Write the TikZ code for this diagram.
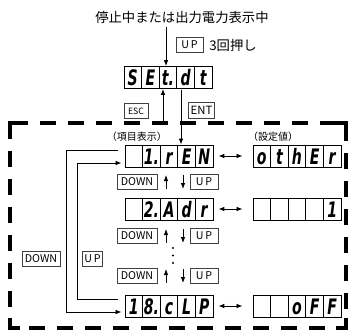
\documentclass[tikz,border=0pt]{standalone}
\usepackage{fontspec}
\setmainfont{Noto Sans CJK JP}
\newfontfamily\segfont{DejaVu Sans}
\usetikzlibrary{arrows.meta,calc}
\tikzset{
 arr/.style={-{Latex[length=4.5pt,width=3.4pt]}, line width=0.6pt},
 darr/.style={{Latex[length=4.5pt,width=3.4pt]}-{Latex[length=4.5pt,width=3.4pt]}, line width=0.6pt},
 segcell/.style={draw, line width=0.6pt, minimum width=13.2pt, minimum height=16.5pt, inner sep=0pt,
   text height=12pt, text depth=0pt, font=\segfont\bfseries\itshape\fontsize{16}{16}\selectfont},
 keybox/.style={draw=black!75, line width=0.5pt, inner sep=0pt, minimum height=11pt,
   font=\fontsize{8}{9}\selectfont},
 border/.style={line width=2.3pt, dash pattern=on 12pt off 9pt},
 note/.style={inner sep=0pt, font=\fontsize{10}{11}\selectfont},
 head/.style={inner sep=0pt, font=\fontsize{7.5}{8}\selectfont},
 dotmark/.style={circle, fill=black, inner sep=0pt, minimum size=1.6pt},
}
\newcommand\segdisp[4]{\foreach \ch [count=\i] in {#4}{\node[segcell] (#1\i) at ({#2+(\i-0.5)*17.6},#3) {\scalebox{0.66}[1]{\ch}};}}
\begin{document}
\begin{tikzpicture}[x=0.75pt,y=-0.75pt]
\useasboundingbox (0,0) rectangle (351,333);

% top text
\node[note] (top) at (182,17) {停止中または出力電力表示中};

% SEt.dt display
\segdisp{sd}{124}{77.5}{S,E,t.,d,t}
\draw[arr] (top.south -| 166,0) ++(0,4) coordinate (topA) -- (topA |- sd3.north);
\node[keybox, minimum width=20.25pt, minimum height=11.25pt] (upA) at (189.5,44.5) {U\,P};
\node[note, anchor=west] (three) at (209,45) {3回押し};

% ESC / ENT
\node[keybox, minimum width=18pt, font=\fontsize{6.5}{7}\selectfont] (esc) at (136,111) {ESC};
\node[keybox, minimum width=20pt, minimum height=12pt, font=\fontsize{8.5}{9}\selectfont] (ent) at (201.5,110) {ENT};
\coordinate (escS) at (163,123);
\draw[arr] (escS) -- (escS |- sd3.south);
\coordinate (entT) at (181,89.5);

% dashed frame
\draw[border] (10,123) rectangle (346,328);
\draw[line width=2.3pt] (10,133) -- (10,123) -- (20,123);
\draw[line width=2.3pt] (336,123) -- (346,123) -- (346,133);
\draw[line width=2.3pt] (10,318) -- (10,328) -- (20,328);
\draw[line width=2.3pt] (336,328) -- (346,328) -- (346,318);

% headers
\node[head] (hItem) at (137,137) {（項目表示）};
\node[head] (hVal) at (273,137) {（設定値）};

% rows
\segdisp{ra}{125}{156}{{},1.,r,E,N}
\segdisp{va}{253}{156}{o,t,h,E,r}
\segdisp{rb}{125}{209}{{},2.,A,d,r}
\segdisp{vb}{253}{209}{{},{},{},{},1}
\segdisp{rc}{125}{306}{1,8.,c,L,P}
\segdisp{vc}{253}{306}{{},{},o,F,F}

\draw[arr] (entT) -- (entT |- ra4.north);

% double arrows
\draw[darr] ($(ra5.east)+(5,0)$) -- ($(va1.west)+(-10,0)$);
\draw[darr] ($(rb5.east)+(5,0)$) -- ($(vb1.west)+(-10,0)$);
\draw[darr] ($(rc5.east)+(5,0)$) -- ($(vc1.west)+(-10,0)$);

% step arrows between rows
\foreach \yy/\nm in {182/p, 236/q, 276/s}{
  \node[keybox, minimum width=30pt] (dn\nm) at (137,\yy) {DOWN};
  \node[keybox, minimum width=21pt] (up\nm) at (204,\yy) {U\,P};
  \coordinate (ua\nm) at (166,\yy+7);
  \coordinate (da\nm) at (183,\yy-7);
  \draw[arr] (ua\nm) -- ++(0,-14);
  \draw[arr] (da\nm) -- ++(0,14);
}
\node[dotmark] (d1) at (173,248) {};
\node[dotmark] (d2) at (173,255.5) {};
\node[dotmark] (d3) at (173,263) {};

% side loops
\draw[arr] ($(ra1.west)+(-7,-6)$) -- ++(-51,0) |- ($(rc1.west)+(-3,6)$);
\draw[arr] ($(rc1.west)+(-7,-7)$) -- ++(-40,0) |- ($(ra1.west)+(-3,7)$);
\node[keybox, minimum width=28.5pt] (dL) at (41,258.5) {DOWN};
\node[keybox, minimum width=15pt] (uL) at (92.5,258.5) {U\,P};
\end{tikzpicture}
\end{document}
